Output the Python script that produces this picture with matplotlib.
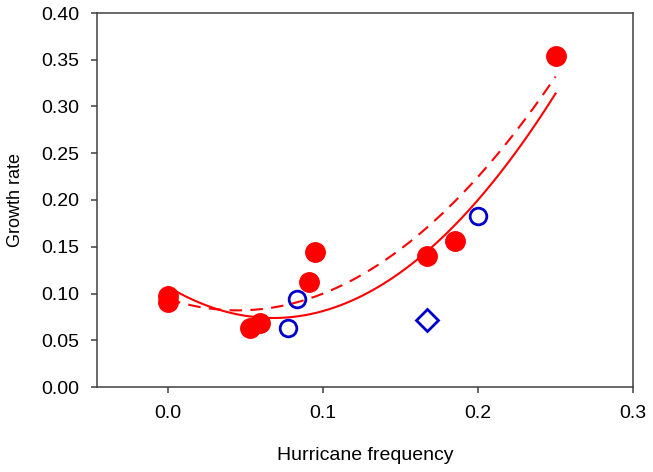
import numpy as np
import matplotlib
matplotlib.use('Agg')
import matplotlib.pyplot as plt

plt.rcParams['font.family'] = ['Liberation Sans', 'DejaVu Sans']

# filled red circles
red_x = [0.0, 0.0, 0.053, 0.059, 0.091, 0.095, 0.167, 0.185, 0.250]
red_y = [0.097, 0.091, 0.063, 0.068, 0.112, 0.144, 0.140, 0.156, 0.354]

# open blue circles
blue_x = [0.077, 0.083, 0.200]
blue_y = [0.063, 0.094, 0.183]

# open blue diamond
diamond_x = [0.167]
diamond_y = [0.072]

# quadratic fit lines (c0 + c1*x + c2*x^2)
solid_coef = [0.107, -0.980, 7.23]
dashed_coef = [0.094, -0.5355, 5.95]
fit_range = [0.0, 0.25]

fig = plt.figure(figsize=(6.53, 4.72), dpi=100)
ax = fig.add_axes([97 / 653, 1 - 387 / 472, 536 / 653, 374 / 472])

xs = np.linspace(fit_range[0], fit_range[1], 200)
ax.plot(xs, np.polyval(solid_coef[::-1], xs), color='#ff0000', lw=1.5, zorder=2)
ax.plot(xs, np.polyval(dashed_coef[::-1], xs), color='#ff0000', lw=1.5,
        dashes=(6, 4), zorder=2)

ax.plot(red_x, red_y, 'o', color='#ff0000', ms=14, mec='#ff0000', zorder=3)
ax.plot(blue_x, blue_y, 'o', mfc='none', mec='#0000cc', mew=2, ms=12, zorder=3)
ax.plot(diamond_x, diamond_y, 'D', mfc='none', mec='#0000cc', mew=2, ms=11.5, zorder=3)

ax.set_xlim(-0.046, 0.3)
ax.set_ylim(0, 0.40)
ax.set_xticks([0.0, 0.1, 0.2, 0.3])
ax.set_xticklabels(['0.0', '0.1', '0.2', '0.3'])
ax.set_yticks(np.arange(0, 0.41, 0.05))
ax.set_yticklabels(['%.2f' % v for v in np.arange(0, 0.41, 0.05)])

for sp in ax.spines.values():
    sp.set_color('#404040')
    sp.set_linewidth(1.1)
ax.tick_params(direction='out', length=4, width=1.1, color='#404040',
               labelsize=14)
ax.tick_params(axis='x', pad=9)
ax.tick_params(axis='y', pad=9)

ax.set_xlabel('Hurricane frequency', fontsize=14, labelpad=18)
ax.set_ylabel('Growth rate', fontsize=13, labelpad=12)

fig.savefig('out.png', dpi=100)
